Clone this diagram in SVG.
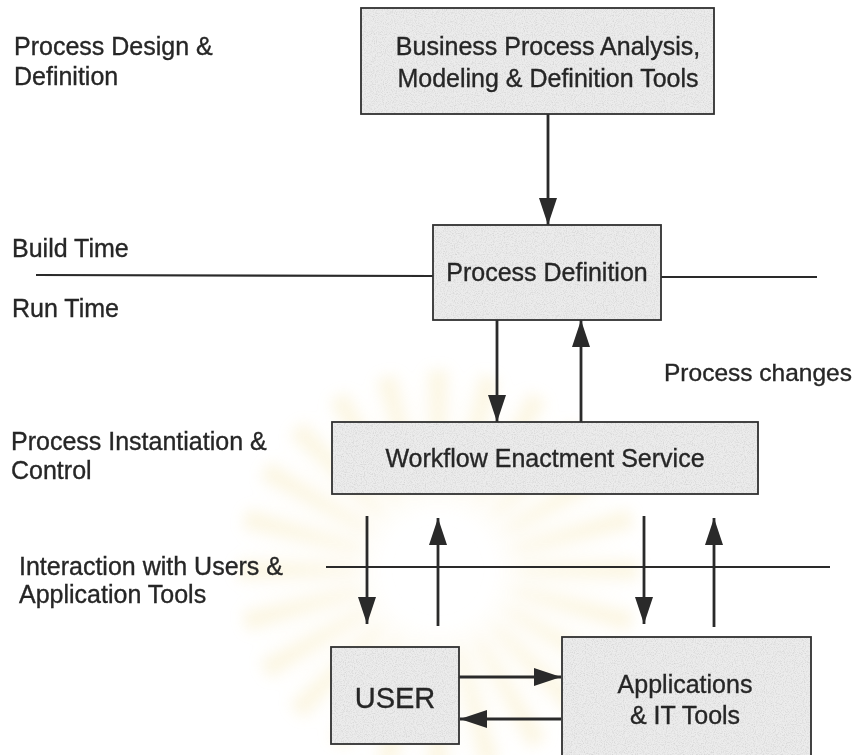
<svg xmlns="http://www.w3.org/2000/svg" width="857" height="755" viewBox="0 0 857 755">
  <style>
    .lbl { font-family: "Liberation Sans", Arial, sans-serif; font-size: 25px; fill: #262626; stroke: #262626; stroke-width: 0.35; }
    .ctr { text-anchor: middle; }
    .box { fill: #ececec; stroke: #303030; stroke-width: 1.8; }
    .wire { stroke: #2a2a2a; stroke-width: 2.8; fill: none; }
    .rule { stroke: #2a2a2a; stroke-width: 2.2; fill: none; }
  </style>
  <defs>
    <marker id="head" markerUnits="userSpaceOnUse" markerWidth="28" markerHeight="20" viewBox="0 0 28 20" refX="27" refY="10" orient="auto">
      <path d="M0,1 L27,10 L0,19 Z" fill="#2a2a2a"/>
    </marker>
    <filter id="grain" x="0" y="0" width="100%" height="100%">
      <feTurbulence type="fractalNoise" baseFrequency="0.9" numOctaves="2" seed="4" result="n"/>
      <feColorMatrix in="n" type="matrix" values="0 0 0 0 0.55  0 0 0 0 0.55  0 0 0 0 0.55  0 0 0 -2.2 1.25" result="dots"/>
      <feComposite in="dots" in2="SourceGraphic" operator="in"/>
    </filter>
    <filter id="soft"><feGaussianBlur stdDeviation="7"/></filter>
    <radialGradient id="burst" cx="0.5" cy="0.5" r="0.5">
      <stop offset="0.25" stop-color="#fff" stop-opacity="0"/>
      <stop offset="0.45" stop-color="#f6e6ad" stop-opacity="0.55"/>
      <stop offset="1" stop-color="#f6e6ad" stop-opacity="0"/>
    </radialGradient>
    <path id="ray" d="M0,-55 L10,-200 L-10,-200 Z"/>
  </defs>

  <rect width="857" height="755" fill="#ffffff"/>

  <!-- faint emblem behind the lower part -->
  <g id="emblem" filter="url(#soft)" opacity="0.6">
    <g transform="translate(438,570)">
      <circle r="200" fill="url(#burst)" opacity="0.35"/>
      <g fill="#f6e6ad" opacity="0.55">
        <use href="#ray" transform="rotate(0)"/>
        <use href="#ray" transform="rotate(15)"/>
        <use href="#ray" transform="rotate(30)"/>
        <use href="#ray" transform="rotate(45)"/>
        <use href="#ray" transform="rotate(60)"/>
        <use href="#ray" transform="rotate(75)"/>
        <use href="#ray" transform="rotate(90)"/>
        <use href="#ray" transform="rotate(105)"/>
        <use href="#ray" transform="rotate(120)"/>
        <use href="#ray" transform="rotate(135)"/>
        <use href="#ray" transform="rotate(150)"/>
        <use href="#ray" transform="rotate(165)"/>
        <use href="#ray" transform="rotate(180)"/>
        <use href="#ray" transform="rotate(195)"/>
        <use href="#ray" transform="rotate(210)"/>
        <use href="#ray" transform="rotate(225)"/>
        <use href="#ray" transform="rotate(240)"/>
        <use href="#ray" transform="rotate(255)"/>
        <use href="#ray" transform="rotate(270)"/>
        <use href="#ray" transform="rotate(285)"/>
        <use href="#ray" transform="rotate(300)"/>
        <use href="#ray" transform="rotate(315)"/>
        <use href="#ray" transform="rotate(330)"/>
        <use href="#ray" transform="rotate(345)"/>
      </g>
    </g>
  </g>

  <!-- phase labels on the left -->
  <g id="phase-labels">
    <text class="lbl" x="14" y="55">Process Design &amp;</text>
    <text class="lbl" x="14" y="85">Definition</text>
    <text class="lbl" x="12" y="257">Build Time</text>
    <text class="lbl" x="12" y="317">Run Time</text>
    <text class="lbl" x="11" y="450">Process Instantiation &amp;</text>
    <text class="lbl" x="11" y="479">Control</text>
    <text class="lbl" x="19" y="575">Interaction with Users &amp;</text>
    <text class="lbl" x="19" y="603">Application Tools</text>
    <text class="lbl" x="664" y="381" style="font-size:24.5px">Process changes</text>
  </g>

  <!-- phase boundary rules -->
  <g id="rules">
    <line class="rule" x1="36" y1="275" x2="433" y2="276"/>
    <line class="rule" x1="661" y1="277" x2="817" y2="277"/>
    <line class="rule" x1="326" y1="567" x2="830" y2="567"/>
  </g>

  <!-- connectors -->
  <g id="connectors">
    <line class="wire" x1="548" y1="114" x2="548" y2="225" marker-end="url(#head)"/>
    <line class="wire" x1="497" y1="320" x2="497" y2="422" marker-end="url(#head)"/>
    <line class="wire" x1="581" y1="422" x2="581" y2="320" marker-end="url(#head)"/>
    <line class="wire" x1="367" y1="516" x2="367" y2="624" marker-end="url(#head)"/>
    <line class="wire" x1="438" y1="626" x2="438" y2="518" marker-end="url(#head)"/>
    <line class="wire" x1="644" y1="516" x2="644" y2="624" marker-end="url(#head)"/>
    <line class="wire" x1="714" y1="627" x2="714" y2="518" marker-end="url(#head)"/>
    <line class="wire" x1="459" y1="677" x2="561" y2="677" marker-end="url(#head)"/>
    <line class="wire" x1="561" y1="719" x2="460" y2="719" marker-end="url(#head)"/>
  </g>

  <g id="modeling-tools">
    <rect class="box" x="361" y="8" width="353" height="106"/>
    <rect x="362" y="9" width="351" height="104" fill="#ececec" filter="url(#grain)" opacity="0.6"/>
    <text class="lbl ctr" x="548" y="55">Business Process Analysis,</text>
    <text class="lbl ctr" x="548" y="87">Modeling &amp; Definition Tools</text>
  </g>

  <g id="process-definition">
    <rect class="box" x="433" y="225" width="228" height="95"/>
    <rect x="434" y="226" width="226" height="93" fill="#ececec" filter="url(#grain)" opacity="0.6"/>
    <text class="lbl ctr" x="547" y="281">Process Definition</text>
  </g>

  <g id="enactment-service">
    <rect class="box" x="332" y="422" width="426" height="72"/>
    <rect x="333" y="423" width="424" height="70" fill="#ececec" filter="url(#grain)" opacity="0.6"/>
    <text class="lbl ctr" x="545" y="467">Workflow Enactment Service</text>
  </g>

  <g id="user">
    <rect class="box" x="331" y="647" width="128" height="97"/>
    <rect x="332" y="648" width="126" height="95" fill="#ececec" filter="url(#grain)" opacity="0.6"/>
    <text class="lbl ctr" x="395" y="708" style="font-size:29px">USER</text>
  </g>

  <g id="applications">
    <rect class="box" x="562" y="637" width="249" height="130"/>
    <rect x="563" y="638" width="247" height="128" fill="#ececec" filter="url(#grain)" opacity="0.6"/>
    <text class="lbl ctr" x="685" y="693">Applications</text>
    <text class="lbl ctr" x="685" y="724">&amp; IT Tools</text>
  </g>
</svg>
